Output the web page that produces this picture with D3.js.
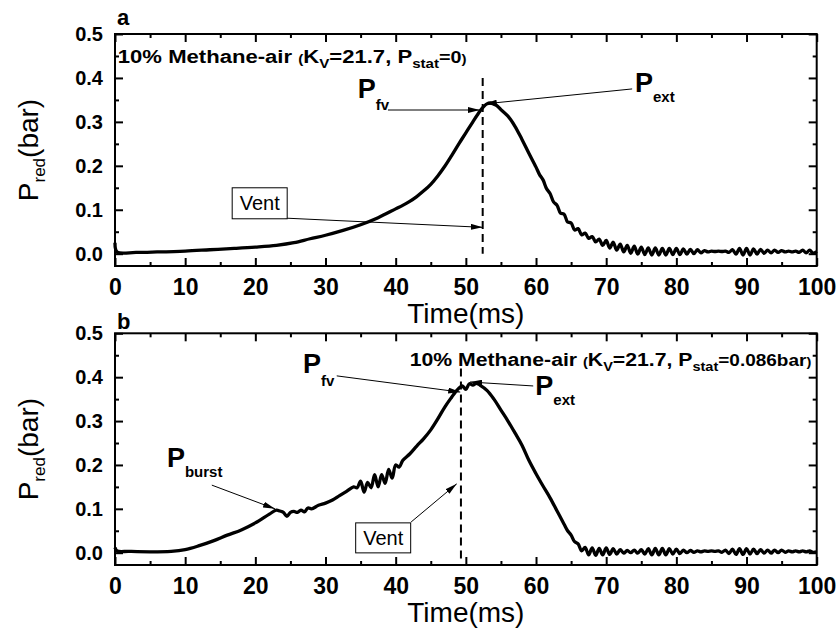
<!DOCTYPE html>
<html>
<head>
<meta charset="utf-8">
<script src="https://cdn.jsdelivr.net/npm/d3@7"></script>
<style>
  body { margin: 0; background: #fff; }
  svg { font-family: 'Liberation Sans', Arial, sans-serif; }
</style>
</head>
<body>
<div id="chart"></div>
<script>
// Pressure trace, panel a: [time (ms), P_red (bar)]
const traceA = [
  [0, 0.025], [0.3, 0.004], [3, 0.003], [6, 0.004], [10, 0.006], [13.5, 0.009],
  [17, 0.012], [20, 0.015], [23, 0.019], [25.5, 0.025], [27.8, 0.034], [30, 0.042],
  [32.5, 0.053], [35, 0.066], [37.5, 0.082], [40, 0.102], [41, 0.110], [42, 0.119],
  [43, 0.130], [44, 0.143], [45, 0.158], [46, 0.177], [47, 0.199], [48, 0.224],
  [49, 0.25], [50, 0.275], [51, 0.3],
  [52, 0.324], [52.5, 0.334], [53, 0.341], [53.5, 0.343], [54, 0.34], [54.5, 0.336],
  [55, 0.328], [56, 0.313], [57, 0.29], [58, 0.26], [59, 0.228], [60, 0.197],
  [60.5, 0.18], [61, 0.168], [61.5, 0.148], [62, 0.137], [62.5, 0.118],
  [63, 0.110], [63.5, 0.092], [64, 0.090], [64.5, 0.072], [65, 0.070], [65.5, 0.054],
  [66, 0.057], [66.5, 0.043], [67, 0.047], [67.5, 0.035], [68, 0.039], [68.5, 0.027],
  [69, 0.033], [69.5, 0.019], [70, 0.030], [70.5, 0.013], [71, 0.026], [71.5, 0.008],
  [72, 0.022], [72.5, 0.004], [73, 0.019], [73.5, 0.001], [74, 0.017], [74.5, -0.001],
  [75, 0.015], [75.5, -0.002], [76, 0.013], [76.5, -0.003], [77, 0.013], [77.5, -0.003],
  [78, 0.012], [78.5, -0.003], [79, 0.012], [79.5, -0.002], [80, 0.012], [80.5, -0.002],
  [81, 0.011], [81.5, -0.001], [82, 0.010], [82.5, 0.000], [83, 0.009], [83.5, 0.002],
  [84, 0.007], [84.5, 0.004], [85, 0.006], [85.5, 0.005], [86, 0.006], [86.5, 0.005],
  [87, 0.006], [87.5, 0.003], [88, 0.009], [88.5, -0.001], [89, 0.012], [89.5, -0.003],
  [90, 0.012], [90.5, -0.003], [91, 0.011], [91.5, -0.001], [92, 0.010], [92.5, 0.001],
  [93, 0.008], [93.5, 0.002], [94, 0.008], [94.5, 0.003], [95, 0.007], [95.5, 0.004],
  [96, 0.006], [96.5, 0.004], [97, 0.006], [97.5, 0.003], [98, 0.008], [98.5, 0.002],
  [99, 0.008], [99.5, 0.001], [100, 0.005]
];

// Pressure trace, panel b
const traceB = [
  [0, 0.012], [0.3, 0.004], [2, 0.003], [5, 0.002], [8, 0.003], [10, 0.007],
  [12, 0.016], [14, 0.027], [16, 0.04], [18, 0.052], [20, 0.068], [22, 0.088],
  [23, 0.097], [23.5, 0.095], [24, 0.092], [24.5, 0.083], [25, 0.092], [25.5, 0.094],
  [26, 0.092], [26.5, 0.097], [27, 0.093], [27.5, 0.102], [28, 0.1], [29, 0.108],
  [30, 0.113], [31, 0.12], [32, 0.13], [33, 0.14], [34, 0.15], [34.5, 0.148],
  [35, 0.163], [35.5, 0.138], [36, 0.16], [36.5, 0.148], [37, 0.178], [37.5, 0.15],
  [38, 0.178], [38.5, 0.158], [39, 0.19], [39.5, 0.17], [40, 0.2], [40.5, 0.195],
  [41, 0.21], [42, 0.225], [43, 0.243], [44, 0.26], [45, 0.28], [46, 0.305],
  [47, 0.332], [48, 0.355], [48.5, 0.366], [49, 0.375], [49.5, 0.38], [50, 0.372],
  [50.5, 0.385], [51, 0.382], [51.5, 0.386], [52, 0.382], [53, 0.37], [54, 0.35],
  [55, 0.325], [56, 0.3], [57, 0.273], [58, 0.245], [59, 0.21], [60, 0.18],
  [61, 0.152], [62, 0.125], [63, 0.095], [64, 0.065], [64.5, 0.05], [65, 0.04],
  [65.5, 0.025], [66, 0.02], [66.5, 0.004],
  [67, 0.012], [67.5, -0.005], [68, 0.011], [68.5, -0.006], [69, 0.010], [69.5, -0.005],
  [70, 0.011], [70.5, -0.004], [71, 0.009], [71.5, -0.003], [72, 0.007], [72.5, -0.001],
  [73, 0.005], [73.5, 0.000], [74, 0.006], [74.5, -0.001], [75, 0.007], [75.5, -0.003],
  [76, 0.009], [76.5, -0.005], [77, 0.010], [77.5, -0.005], [78, 0.010], [78.5, -0.005],
  [79, 0.009], [79.5, -0.003], [80, 0.008], [80.5, -0.002], [81, 0.006], [81.5, 0.000],
  [82, 0.005], [82.5, 0.001], [83, 0.004], [83.5, 0.002], [84, 0.004], [84.5, 0.003],
  [85, 0.004], [85.5, 0.003], [86, 0.004], [86.5, 0.001], [87, 0.006], [87.5, -0.002],
  [88, 0.008], [88.5, -0.004], [89, 0.009], [89.5, -0.004], [90, 0.009], [90.5, -0.003],
  [91, 0.008], [91.5, -0.002], [92, 0.007], [92.5, -0.001], [93, 0.006], [93.5, -0.001],
  [94, 0.006], [94.5, 0.000], [95, 0.006], [95.5, 0.001], [96, 0.004], [96.5, 0.002],
  [97, 0.004], [97.5, 0.002], [98, 0.004], [98.5, 0.002], [99, 0.004], [99.5, 0.001],
  [100, 0.002]
];

const xTicks = [0, 10, 20, 30, 40, 50, 60, 70, 80, 90, 100];
const xMinor = [5, 15, 25, 35, 45, 55, 65, 75, 85, 95];
const yTicks = [0, 0.1, 0.2, 0.3, 0.4, 0.5];
const yMinor = [0.05, 0.15, 0.25, 0.35, 0.45];

// vent opening times (ms) for the dashed markers
const ventTimes = [52.4, 49.3];

const W = 838, H = 637;
const svg = d3.select('#chart').append('svg').attr('width', W).attr('height', H);

const defs = svg.append('defs');
defs.append('marker')
  .attr('id', 'arrow')
  .attr('viewBox', '0 0 10 5')
  .attr('refX', 10).attr('refY', 2.5)
  .attr('markerWidth', 12).attr('markerHeight', 6)
  .attr('markerUnits', 'userSpaceOnUse')
  .attr('orient', 'auto')
  .append('path').attr('d', 'M0,0 L10,2.5 L0,5 Z').attr('fill', '#000');

const x = d3.scaleLinear().domain([0, 100]).range([115, 816.7]);

function styleTicks(sel) {
  sel.select('.domain').remove();
  sel.selectAll('line').attr('stroke', '#000').attr('stroke-width', 2);
}

function drawAxes(y) {
  const [yb, yt] = y.range();
  const g = svg.append('g');

  g.append('g').attr('transform', `translate(0,${yb})`)
    .call(d3.axisBottom(x).tickValues(xTicks).tickSize(-8).tickPadding(13))
    .call(styleTicks)
    .call(s => s.selectAll('text').attr('font-size', 23).attr('font-weight', 'bold').attr('fill', '#000'));
  g.append('g').attr('transform', `translate(0,${yb})`)
    .call(d3.axisBottom(x).tickValues(xMinor).tickSize(-4).tickFormat(''))
    .call(styleTicks);

  g.append('g').attr('transform', `translate(0,${yt})`)
    .call(d3.axisTop(x).tickValues(xTicks).tickSize(-8).tickFormat(''))
    .call(styleTicks);
  g.append('g').attr('transform', `translate(0,${yt})`)
    .call(d3.axisTop(x).tickValues(xMinor).tickSize(-4).tickFormat(''))
    .call(styleTicks);

  g.append('g').attr('transform', `translate(${x(0)},0)`)
    .call(d3.axisLeft(y).tickValues(yTicks).tickSize(-8).tickPadding(12).tickFormat(d3.format('.1f')))
    .call(styleTicks)
    .call(s => s.selectAll('text').attr('font-size', 20).attr('font-weight', 'bold').attr('fill', '#000'));
  g.append('g').attr('transform', `translate(${x(0)},0)`)
    .call(d3.axisLeft(y).tickValues(yMinor).tickSize(-4).tickFormat(''))
    .call(styleTicks);

  g.append('g').attr('transform', `translate(${x(100)},0)`)
    .call(d3.axisRight(y).tickValues(yTicks).tickSize(-8).tickFormat(''))
    .call(styleTicks);
  g.append('g').attr('transform', `translate(${x(100)},0)`)
    .call(d3.axisRight(y).tickValues(yMinor).tickSize(-4).tickFormat(''))
    .call(styleTicks);

  g.selectAll('g').attr('font-family', null);

  // frame
  g.append('rect')
    .attr('x', x(0)).attr('y', yt)
    .attr('width', x(100) - x(0)).attr('height', yb - yt)
    .attr('fill', 'none').attr('stroke', '#000').attr('stroke-width', 2);

  // axis titles
  g.append('text')
    .attr('x', (x(0) + x(100)) / 2).attr('y', yb + 57)
    .attr('text-anchor', 'middle').attr('font-size', 28)
    .text('Time(ms)');

  const yl = g.append('text')
    .attr('transform', `translate(38,${(yb + yt) / 2}) rotate(-90)`)
    .attr('text-anchor', 'middle').attr('font-size', 28);
  yl.append('tspan').text('P');
  yl.append('tspan').attr('font-size', 17).attr('dy', 7).text('red');
  yl.append('tspan').attr('dy', -7).text('(bar)');
  return g;
}

function drawTrace(y, data) {
  const line = d3.line()
    .x(d => x(d[0]))
    .y(d => y(d[1]))
    .curve(d3.curveCatmullRom);
  svg.append('path')
    .datum(data)
    .attr('fill', 'none')
    .attr('stroke', '#000')
    .attr('stroke-width', 3.3)
    .attr('stroke-linejoin', 'round')
    .attr('d', line);
}

function arrow(y, from, to) {
  svg.append('line')
    .attr('x1', x(from[0])).attr('y1', y(from[1]))
    .attr('x2', x(to[0])).attr('y2', y(to[1]))
    .attr('stroke', '#000').attr('stroke-width', 1)
    .attr('marker-end', 'url(#arrow)');
}

function pLabel(y, pos, sub, dy) {
  const t = svg.append('text')
    .attr('x', x(pos[0])).attr('y', y(pos[1]))
    .attr('font-size', 27).attr('font-weight', 'bold');
  t.append('tspan').text('P');
  t.append('tspan').attr('font-size', 15).attr('dy', dy).text(sub);
}

function ventBox(y, corner, size) {
  const bx = x(corner[0]), by = y(corner[1]);
  svg.append('rect')
    .attr('x', bx).attr('y', by).attr('width', size[0]).attr('height', size[1])
    .attr('fill', '#fff').attr('stroke', '#000').attr('stroke-width', 1);
  svg.append('text')
    .attr('x', bx + size[0] / 2).attr('y', by + size[1] / 2 + 7)
    .attr('text-anchor', 'middle').attr('font-size', 20)
    .text('Vent');
}

function vent(y, t, v0, v1) {
  svg.append('line')
    .attr('x1', x(t)).attr('x2', x(t))
    .attr('y1', y(v0)).attr('y2', y(v1))
    .attr('stroke', '#000').attr('stroke-width', 2)
    .attr('stroke-dasharray', '8,5');
}

function caption(y, pos, pstat, targetWidth) {
  const t = svg.append('text').attr('font-weight', 'bold').attr('font-size', 19);
  t.append('tspan').text('10% Methane-air ');
  t.append('tspan').attr('font-size', 13).text('(');
  t.append('tspan').text('K');
  t.append('tspan').attr('font-size', 13).attr('dy', 5).text('V');
  t.append('tspan').attr('dy', -5).text('=21.7, P');
  t.append('tspan').attr('font-size', 13).attr('dy', 5).text('stat');
  t.append('tspan').attr('dy', -5).attr('font-size', 17).text('=' + pstat);
  t.append('tspan').attr('font-size', 13).text(')');
  const w = t.node().getComputedTextLength();
  t.attr('transform', `translate(${x(pos[0])},${y(pos[1])}) scale(${targetWidth / w},1)`);
}

// ---------- panel a ----------
const yA = d3.scaleLinear().domain([-0.028, 0.5]).range([266, 34]);
drawAxes(yA);
svg.append('text').attr('x', 117).attr('y', 25)
  .attr('font-size', 22).attr('font-weight', 'bold').text('a');
vent(yA, ventTimes[0], 0.4, 0.0);
drawTrace(yA, traceA);
caption(yA, [0.4, 0.434], '0', 349);
pLabel(yA, [34.6, 0.355], 'fv', 12);
arrow(yA, [38.9, 0.327], [52.0, 0.327]);
pLabel(yA, [74.1, 0.368], 'ext', 10);
arrow(yA, [73.7, 0.375], [52.7, 0.341]);
arrow(yA, [24.2, 0.081], [52.4, 0.06]);
ventBox(yA, [16.7, 0.15], [55, 31]);

// ---------- panel b ----------
const yB = d3.scaleLinear().domain([-0.028, 0.5]).range([565, 333.3]);
drawAxes(yB);
svg.append('text').attr('x', 117).attr('y', 329)
  .attr('font-size', 22).attr('font-weight', 'bold').text('b');
vent(yB, ventTimes[1], 0.42, -0.02);
drawTrace(yB, traceB);
caption(yB, [42.0, 0.425], '0.086bar', 402);
pLabel(yB, [26.8, 0.41], 'fv', 13);
arrow(yB, [31.6, 0.403], [49.2, 0.366]);
pLabel(yB, [59.9, 0.359], 'ext', 10);
arrow(yB, [59.6, 0.38], [50.6, 0.389]);
pLabel(yB, [7.4, 0.195], 'burst', 10);
arrow(yB, [13.8, 0.154], [22.8, 0.1]);
arrow(yB, [42.2, 0.07], [48.7, 0.157]);
ventBox(yB, [34.3, 0.068], [55, 30]);
</script>
</body>
</html>
